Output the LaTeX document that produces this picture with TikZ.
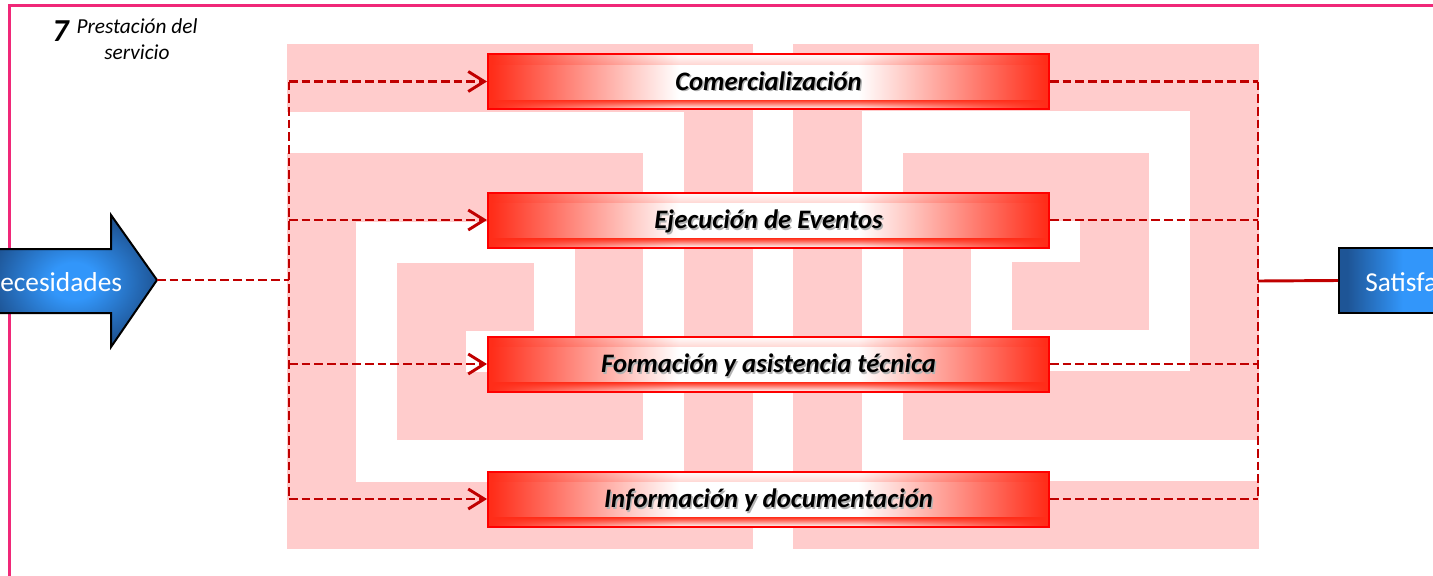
\documentclass[tikz,border=0pt]{standalone}
\usepackage{fontspec}
\setmainfont{Carlito}
\usetikzlibrary{arrows.meta,fadings}
\definecolor{pinkbg}{RGB}{255,204,204}
\definecolor{redA}{RGB}{255,45,25}
\definecolor{boxline}{RGB}{255,0,0}
\definecolor{conn}{RGB}{192,0,0}
\definecolor{framec}{RGB}{240,40,120}
\definecolor{bluedark}{RGB}{30,85,150}
\definecolor{bluebright}{RGB}{50,150,250}
\pgfdeclarehorizontalshading{boxshade}{100bp}{color(0bp)=(redA); color(25.3bp)=(redA); color(42bp)=(white); color(58bp)=(white); color(74.7bp)=(redA); color(100bp)=(redA)}
\pgfdeclarehorizontalshading{satshade}{100bp}{color(0bp)=(bluedark); color(29bp)=(bluedark); color(55bp)=(bluebright); color(100bp)=(bluebright)}
\pgfdeclareradialshading{bluerad}{\pgfpoint{0bp}{0bp}}{color(0bp)=(bluebright); color(7bp)=(bluebright); color(25bp)=(bluedark); color(50bp)=(bluedark)}
\tikzfading[name=fadedown, top color=transparent!0, bottom color=transparent!100]
\tikzfading[name=fadeup, top color=transparent!100, bottom color=transparent!0]
\newcommand\shtext[1]{\leavevmode\rlap{\kern1.1pt\raisebox{-1.1pt}{\textcolor{black!30}{#1}}}#1}
\tikzset{
  procbox/.style={draw=boxline, line width=1.5pt, shade, shading=boxshade,
    minimum width=420.75pt, minimum height=41.25pt, inner sep=0pt,
    text height=15pt, text depth=2.2pt,
    font=\bfseries\itshape\fontsize{20}{24}\selectfont,
    path picture={
      \fill[redA, path fading=fadeup] (path picture bounding box.north west) rectangle ([yshift=-8pt]path picture bounding box.north east);
      \fill[redA, path fading=fadedown] (path picture bounding box.south west) rectangle ([yshift=7pt]path picture bounding box.south east);
    }},
  connline/.style={draw=conn, line width=2.2pt, dash pattern=on 6.5pt off 3pt},
  connsolid/.style={draw=conn, line width=2.2pt},
  barb/.style={-{Straight Barb[length=12pt,width=15pt]}},
  maze/.style={fill=pinkbg},
  bluetext/.style={inner sep=0pt, text=white, font=\fontsize{20.5}{24}\selectfont},
}
\begin{document}
\begin{tikzpicture}[x=0.75pt, y=-0.75pt]
\useasboundingbox (0,0) rectangle (1433,575);
\clip (0,0) rectangle (1433,575);
% frame
\draw[framec, line width=1.9pt] (9.5,5.5) rectangle (1500,650);
% maze left half
\begin{scope}
\path[maze] (287,44) rectangle (753,112);
\path[maze] (684,44) rectangle (753,549);
\path[maze] (287,482) rectangle (753,549);
\path[maze] (287,153) rectangle (356,549);
\path[maze] (287,153) rectangle (643,222);
\path[maze] (575,153) rectangle (643,440);
\path[maze] (397,372) rectangle (643,440);
\path[maze] (397,263) rectangle (466,440);
\path[maze] (397,263) rectangle (534,331);
\end{scope}
% maze right half (rotated copy)
\begin{scope}[rotate around={180:(773,296.5)}]
\path[maze] (287,44) rectangle (753,112);
\path[maze] (684,44) rectangle (753,549);
\path[maze] (287,482) rectangle (753,549);
\path[maze] (287,153) rectangle (356,549);
\path[maze] (287,153) rectangle (643,222);
\path[maze] (575,153) rectangle (643,440);
\path[maze] (397,372) rectangle (643,440);
\path[maze] (397,263) rectangle (466,440);
\path[maze] (397,263) rectangle (534,331);
\end{scope}
% title
\node[anchor=base west, inner sep=0pt, font=\bfseries\itshape\fontsize{24}{26}\selectfont] (num) at (52,41) {7};
\node[anchor=north, inner sep=0pt, align=center, font=\itshape\fontsize{16}{19.5}\selectfont] (title) at (137,18) {Prestación del\\servicio};
% Necesidades arrow
\path[draw=black, line width=1.5pt, shade, shading=bluerad]
  (-10,249) -- (111,249) -- (111,215) -- (157,280) -- (111,347) -- (111,313) -- (-10,313) -- cycle;
\coordinate (necTip) at (157,280);
\node[bluetext, anchor=base west] (necText) at (0,291) {ecesidades};
% Satisfaccion box
\node[draw=black, line width=1.5pt, shade, shading=satshade, minimum width=79.5pt, minimum height=48.75pt, inner sep=0pt] (sat) at (1392,280.5) {};
\node[bluetext, anchor=base west] (satText) at (1365,291) {Satisfa};
% process boxes
\node[procbox] (com) at (768.5,81.5) {\shtext{Comercialización}};
\node[procbox] (eje) at (768.5,220) {\shtext{Ejecución de Eventos}};
\node[procbox] (for) at (768.5,364) {\shtext{Formación y asistencia técnica}};
\node[procbox] (inf) at (768.5,499) {\shtext{Información y documentación}};
% left connectors
\coordinate (lj) at (289,280);
\coordinate (lt1) at (289,81.5);
\coordinate (lt2) at (289,220);
\coordinate (lt3) at (289,364);
\coordinate (lt4) at (289,499);
\draw[connline] (necTip) -- (lj);
\draw[connline] (lt1) -- (lt4);
\draw[connline, barb] (lt1) -- (com.west);
\draw[connline, barb] (lt2) -- (eje.west);
\draw[connline, barb] (lt3) -- (for.west);
\draw[connline, barb] (lt4) -- (inf.west);
% right connectors
\coordinate (rt1) at (1258,81.5);
\coordinate (rt2) at (1258,220);
\coordinate (rt3) at (1258,364);
\coordinate (rt4) at (1258,499);
\coordinate (rj) at (1258,281);
\draw[connline] (com.east) -- (rt1);
\draw[connline] (eje.east) -- (rt2);
\draw[connline] (for.east) -- (rt3);
\draw[connline] (inf.east) -- (rt4);
\draw[connline] (rt1) -- (rt4);
\draw[connsolid] (rj) -- (sat.west);
\end{tikzpicture}
\end{document}
